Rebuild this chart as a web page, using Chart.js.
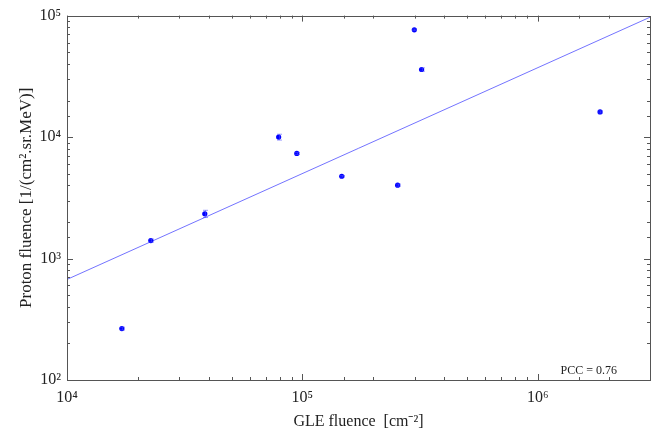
<!DOCTYPE html>
<html>
<head>
<meta charset="utf-8">
<title>GLE fluence vs proton fluence</title>
<script src="https://cdn.jsdelivr.net/npm/chart.js@4"></script>
<style>
    html, body { margin: 0; padding: 0; background: #fff; }
    #wrap { width: 665px; height: 435px; }
</style>
</head>
<body>
<div id="wrap"><canvas id="chartFluence"></canvas></div>
<script>
// DATA
const gleFluence = [1.71e4, 2.27e4, 3.85e4, 7.93e4, 9.47e4, 1.47e5, 2.54e5, 2.99e5, 3.21e5, 1.84e6];
const protonFluence = [265, 1406, 2335, 1.0e4, 7330, 4760, 4020, 7.64e4, 3.6e4, 1.61e4];
const protonErr = [7, 40, 160, 550, 150, 70, 80, 1100, 1100, 320];

// fitted power law, drawn between the two x limits
const fitX = [1e4, 3e6];
const fitY = [673, 97000];

const xLimits = [1e4, 3e6];
const yLimits = [1e2, 1e5];
const pccText = 'PCC = 0.76';

// STYLE
const colores = {
    punto: '#0000ff',
    barra: 'rgba(70, 70, 255, 0.55)',
    ajuste: 'rgba(90, 90, 255, 0.85)',
    eje: '#555555',
    texto: '#222222'
};
const fuente = '"Liberation Serif", "Times New Roman", serif';

const sup = { '0': '⁰', '1': '¹', '2': '²', '3': '³', '4': '⁴', '5': '⁵', '6': '⁶', '7': '⁷', '8': '⁸', '9': '⁹', '-': '⁻' };

function esPotencia(v) {
    const e = Math.log10(v);
    return Math.abs(e - Math.round(e)) < 1e-9;
}

function etiquetaPotencia(v) {
    if (!esPotencia(v)) return '';
    const e = String(Math.round(Math.log10(v)));
    return '10' + e.split('').map(c => sup[c]).join('');
}

// error bars, inward ticks, frame and the PCC label
const pluginExtras = {
    id: 'extras',
    afterDatasetsDraw(chart) {
        const ctx = chart.ctx;
        const xs = chart.scales.x, ys = chart.scales.y;
        ctx.save();
        ctx.strokeStyle = colores.barra;
        ctx.lineWidth = 1;
        for (let i = 0; i < gleFluence.length; i++) {
            const px = Math.round(xs.getPixelForValue(gleFluence[i])) + 0.5;
            const yTop = ys.getPixelForValue(protonFluence[i] + protonErr[i]);
            const yBot = ys.getPixelForValue(protonFluence[i] - protonErr[i]);
            ctx.beginPath();
            ctx.moveTo(px, yTop); ctx.lineTo(px, yBot);
            ctx.moveTo(px - 2.5, yTop); ctx.lineTo(px + 2.5, yTop);
            ctx.moveTo(px - 2.5, yBot); ctx.lineTo(px + 2.5, yBot);
            ctx.stroke();
        }
        ctx.restore();
    },
    afterDraw(chart) {
        const ctx = chart.ctx;
        const a = chart.chartArea;
        const xs = chart.scales.x, ys = chart.scales.y;
        ctx.save();
        ctx.strokeStyle = colores.eje;
        ctx.lineWidth = 1;
        ctx.beginPath();
        xs.ticks.forEach(t => {
            const px = Math.round(xs.getPixelForValue(t.value)) + 0.5;
            if (px < a.left || px > a.right) return;
            const len = esPotencia(t.value) ? 6 : 3;
            ctx.moveTo(px, a.bottom); ctx.lineTo(px, a.bottom - len);
            ctx.moveTo(px, a.top); ctx.lineTo(px, a.top + len);
        });
        ys.ticks.forEach(t => {
            const py = Math.round(ys.getPixelForValue(t.value)) + 0.5;
            if (py < a.top || py > a.bottom) return;
            const len = esPotencia(t.value) ? 6 : 3;
            ctx.moveTo(a.left, py); ctx.lineTo(a.left + len, py);
            ctx.moveTo(a.right, py); ctx.lineTo(a.right - len, py);
        });
        ctx.stroke();
        ctx.strokeRect(Math.round(a.left) + 0.5, Math.round(a.top) + 0.5,
            Math.round(a.right - a.left), Math.round(a.bottom - a.top));

        ctx.fillStyle = colores.texto;
        ctx.font = '12px ' + fuente;
        ctx.textAlign = 'right';
        ctx.textBaseline = 'alphabetic';
        ctx.fillText(pccText, a.right - 33, a.bottom - 6);
        ctx.restore();
    }
};

document.addEventListener('DOMContentLoaded', function() {
    const ctx = document.getElementById('chartFluence').getContext('2d');

    new Chart(ctx, {
        type: 'scatter',
        data: {
            datasets: [
                {
                    label: 'events',
                    data: gleFluence.map((x, i) => ({ x: x, y: protonFluence[i] })),
                    backgroundColor: colores.punto,
                    borderColor: colores.punto,
                    pointRadius: 2.6,
                    pointHoverRadius: 2.6,
                    borderWidth: 0
                },
                {
                    type: 'line',
                    label: 'fit',
                    data: fitX.map((x, i) => ({ x: x, y: fitY[i] })),
                    borderColor: colores.ajuste,
                    borderWidth: 1,
                    pointRadius: 0,
                    fill: false
                }
            ]
        },
        options: {
            responsive: true,
            maintainAspectRatio: false,
            animation: false,
            layout: { padding: { left: 16, top: 12, right: 15, bottom: 0 } },
            plugins: {
                legend: { display: false },
                tooltip: { enabled: false }
            },
            scales: {
                x: {
                    type: 'logarithmic',
                    min: xLimits[0],
                    max: xLimits[1],
                    afterFit(scale) { scale.height = 55; },
                    grid: { display: false, drawTicks: false },
                    border: { display: false },
                    ticks: {
                        autoSkip: false,
                        maxRotation: 0,
                        padding: 8,
                        color: colores.texto,
                        font: { family: fuente, size: 16 },
                        callback: v => etiquetaPotencia(v)
                    },
                    title: {
                        display: true,
                        text: 'GLE fluence  [cm⁻²]',
                        color: colores.texto,
                        font: { family: fuente, size: 16 },
                        padding: { top: 0, bottom: 4 }
                    }
                },
                y: {
                    type: 'logarithmic',
                    min: yLimits[0],
                    max: yLimits[1],
                    afterFit(scale) { scale.width = 51; },
                    grid: { display: false, drawTicks: false },
                    border: { display: false },
                    ticks: {
                        autoSkip: false,
                        padding: 6,
                        color: colores.texto,
                        font: { family: fuente, size: 16 },
                        callback: v => etiquetaPotencia(v)
                    },
                    title: {
                        display: true,
                        text: 'Proton fluence [1/(cm².sr.MeV)]',
                        color: colores.texto,
                        font: { family: fuente, size: 17 },
                        padding: { top: 0, bottom: 0 }
                    }
                }
            }
        },
        plugins: [pluginExtras]
    });
});
</script>
</body>
</html>
